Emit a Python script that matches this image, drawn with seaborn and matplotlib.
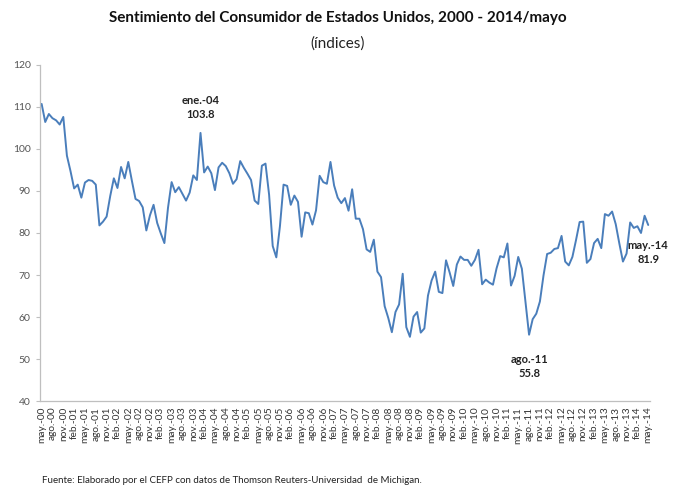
import numpy as np
import pandas as pd
import matplotlib
matplotlib.use("Agg")
import matplotlib.pyplot as plt
import seaborn as sns

# Monthly values May 2000 - May 2014
v2000 = [110.7, 106.4, 108.3, 107.3, 106.8, 105.8, 107.6, 98.4]  # May-Dec
v2001 = [94.7, 90.6, 91.5, 88.4, 92.0, 92.6, 92.4, 91.5, 81.8, 82.7, 83.9, 88.8]
v2002 = [93.0, 90.7, 95.7, 93.0, 96.9, 92.4, 88.1, 87.6, 86.1, 80.6, 84.2, 86.7]
v2003 = [82.4, 79.9, 77.6, 86.0, 92.1, 89.7, 90.9, 89.3, 87.7, 89.6, 93.7, 92.6]
v2004 = [103.8, 94.4, 95.8, 94.2, 90.2, 95.6, 96.7, 95.9, 94.2, 91.7, 92.8, 97.1]
v2005 = [95.5, 94.1, 92.6, 87.7, 86.9, 96.0, 96.5, 89.1, 76.9, 74.2, 81.6, 91.5]
v2006 = [91.2, 86.7, 88.9, 87.4, 79.1, 84.9, 84.7, 82.0, 85.4, 93.6, 92.1, 91.7]
v2007 = [96.9, 91.3, 88.4, 87.1, 88.3, 85.3, 90.4, 83.4, 83.4, 80.9, 76.1, 75.5]
v2008 = [78.4, 70.8, 69.5, 62.6, 59.8, 56.4, 61.2, 63.0, 70.3, 57.6, 55.3, 60.1]
v2009 = [61.2, 56.3, 57.3, 65.1, 68.7, 70.8, 66.0, 65.7, 73.5, 70.6, 67.4, 72.5]
v2010 = [74.4, 73.6, 73.6, 72.2, 73.6, 76.0, 67.8, 68.9, 68.2, 67.7, 71.6, 74.5]
v2011 = [74.2, 77.5, 67.5, 69.8, 74.3, 71.5, 63.7, 55.8, 59.5, 60.8, 63.7, 69.9]
v2012 = [75.0, 75.3, 76.2, 76.4, 79.3, 73.2, 72.3, 74.3, 78.3, 82.6, 82.7, 72.9]
v2013 = [73.8, 77.6, 78.6, 76.4, 84.5, 84.1, 85.1, 82.1, 77.5, 73.2, 75.1, 82.5]
v2014 = [81.2, 81.6, 80.0, 84.1, 81.9]  # Jan-May

values = v2000 + v2001 + v2002 + v2003 + v2004 + v2005 + v2006 + v2007 + \
    v2008 + v2009 + v2010 + v2011 + v2012 + v2013 + v2014

month_abbr = ["ene.", "feb.", "mar.", "abr.", "may.", "jun.", "jul.", "ago.",
              "sep.", "oct.", "nov.", "dic."]
labels = []
for i in range(len(values)):
    m = (4 + i) % 12
    y = 2000 + (4 + i) // 12
    labels.append(f"{month_abbr[m]}-{y % 100:02d}")

df = pd.DataFrame({"idx": np.arange(len(values)), "value": values, "label": labels})

annot_labels = ["ene.-04", "ago.-11", "may.-14"]
annot_offsets = [(0, 6), (0, -7.5), (0, -6.5)]

sns.set_theme(style="white")
plt.rcParams["font.family"] = ["Lato", "DejaVu Sans"]

fig = plt.figure(figsize=(6.75, 4.91), dpi=100)
ax = fig.add_axes([0.059, 0.183, 0.904, 0.685])

sns.lineplot(data=df, x="idx", y="value", ax=ax, color="#4a7ebb", linewidth=1.4)

ax.set_ylim(40, 120)
ax.set_yticks(np.arange(40, 121, 10))
ax.set_xlim(-0.5, len(values) - 0.5)
tick_pos = df["idx"][::3]
ax.set_xticks(tick_pos)
ax.set_xticklabels(df["label"][::3], rotation=90, fontsize=7.3, color="#333333")
ax.tick_params(axis="y", labelsize=7.5, colors="#555555", length=3, left=True, width=0.8)
ax.tick_params(axis="x", length=0, pad=4)
ax.set_xlabel("")
ax.set_ylabel("")

for sp in ["top", "right"]:
    ax.spines[sp].set_visible(False)
for sp in ["left", "bottom"]:
    ax.spines[sp].set_color("#bfbfbf")
    ax.spines[sp].set_linewidth(0.9)
ax.tick_params(axis="y", color="#bfbfbf")

for lab, (dx, dy) in zip(annot_labels, annot_offsets):
    r = df[df["label"] == lab].iloc[0]
    ax.text(r["idx"] + dx, r["value"] + dy, f"{lab}\n{r['value']:.1f}",
            ha="center", va="center", fontsize=8, fontweight="bold",
            color="#222222", linespacing=1.3)

fig.text(0.5, 0.963, "Sentimiento del Consumidor de Estados Unidos, 2000 - 2014/mayo",
         ha="center", va="center", fontsize=11, fontweight="bold", color="#111111")
fig.text(0.5, 0.912, "(índices)", ha="center", va="center", fontsize=11, color="#222222")
fig.text(0.062, 0.012, "Fuente: Elaborado por el CEFP con datos de Thomson Reuters-Universidad  de Michigan.",
         ha="left", va="bottom", fontsize=7, color="#222222")

fig.savefig("out.png", dpi=100)
